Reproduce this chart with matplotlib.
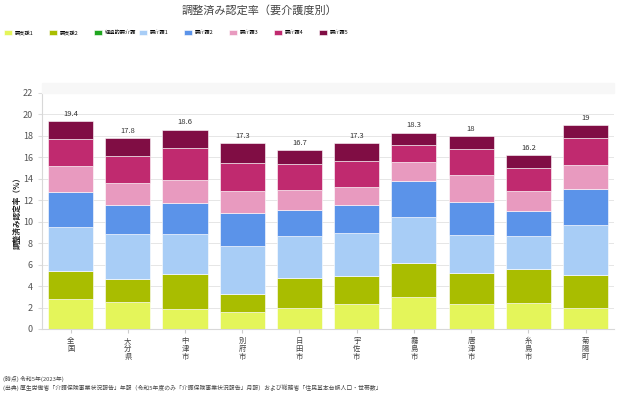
import matplotlib
matplotlib.use("Agg")
import matplotlib.pyplot as plt
import numpy as np

plt.rcParams['font.family'] = ['Noto Sans CJK JP', 'DejaVu Sans']

categories = ["全国", "大分県", "中津市", "別府市", "日田市", "宇佐市", "霧島市", "唐津市", "糸島市", "菊陽町"]
series_names = ["要支援1", "要支援2", "経過的要介護", "要介護1", "要介護2", "要介護3", "要介護4", "要介護5"]
shien1 = [2.80, 2.49, 1.86, 1.58, 1.96, 2.33, 2.98, 2.33, 2.42, 1.93]
shien2 = [2.64, 2.17, 3.24, 1.68, 2.83, 2.58, 3.17, 2.86, 3.14, 3.14]
keika = [0.0, 0.0, 0.0, 0.0, 0.0, 0.0, 0.0, 0.0, 0.0, 0.0]
kaigo1 = [4.04, 4.20, 3.79, 4.51, 3.91, 4.04, 4.32, 3.57, 3.11, 4.66]
kaigo2 = [3.26, 2.73, 2.86, 3.01, 2.36, 2.61, 3.33, 3.08, 2.30, 3.35]
kaigo3 = [2.49, 2.05, 2.17, 2.12, 1.93, 1.68, 1.80, 2.52, 1.90, 2.18]
kaigo4 = [2.48, 2.46, 2.92, 2.58, 2.36, 2.42, 1.55, 2.42, 2.17, 2.51]
kaigo5 = [1.69, 1.70, 1.74, 1.82, 1.35, 1.64, 1.15, 1.22, 1.16, 1.23]
totals = ["19.4", "17.8", "18.6", "17.3", "16.7", "17.3", "18.3", "18", "16.2", "19"]

colors = ["#e4f55a", "#a9bd00", "#1fa61f", "#a8cdf6", "#5b93e9", "#e89abf", "#c02a6f", "#800d44"]
series = [shien1, shien2, keika, kaigo1, kaigo2, kaigo3, kaigo4, kaigo5]

fig = plt.figure(figsize=(6.4, 3.98), dpi=100)
ax = fig.add_axes([0.0656, 0.1734, 0.894, 0.593])

x = np.arange(len(categories))
bottom = np.zeros(len(categories))
handles = []
for name, vals, c in zip(series_names, series, colors):
    v = np.array(vals)
    b = ax.bar(x, v, bottom=bottom, width=0.79, color=c, edgecolor='white', linewidth=0.4, label=name)
    handles.append(b)
    bottom += v

for xi, top, t in zip(x, bottom, totals):
    ax.text(xi, top + 0.3, t, ha='center', va='bottom', fontsize=5.5, color='#333333')

ax.set_xlim(-0.5, len(categories) - 0.5)
ax.set_ylim(0, 22)
ax.set_yticks(np.arange(0, 23, 2))
ax.tick_params(axis='y', labelsize=6.5, colors='#555555', length=3, color='#dddddd')
ax.set_xticks(x)
ax.set_xticklabels(["\n".join(c) for c in categories], fontsize=5.3, color='#444444', linespacing=1.0)
ax.tick_params(axis='x', length=3, color='#cccccc', pad=3)
ax.yaxis.grid(True, color='#e6e6e6', linewidth=0.7)
ax.set_axisbelow(True)
for s in ['top', 'right']:
    ax.spines[s].set_visible(False)
ax.spines['left'].set_color('#d8d8d8')
ax.spines['bottom'].set_color('#d8d8d8')
ax.set_ylabel("調整済み認定率（%）", fontsize=5.5, fontweight='bold', color='#222222')
ax.yaxis.set_label_coords((22 - 42) / 572, 0.5)

# faint band above the plot area
fig.patches.append(plt.Rectangle((42 / 640, 1 - 93 / 398), 572 / 640, 10 / 398,
                                 transform=fig.transFigure, color='#f7f7f7', zorder=0))

fig.text(259 / 640, 1 - 10 / 398, "調整済み認定率（要介護度別）", ha='center', va='center', fontsize=8, color='#444444')

for i, (h, name) in enumerate(zip(handles, series_names)):
    lg = fig.legend(handles=[h], labels=[name], loc='center left',
                    bbox_to_anchor=((4 + 45 * i) / 640, 1 - 32.5 / 398),
                    frameon=False, fontsize=3.8, handlelength=1.6, handleheight=1.0,
                    handletextpad=0.4, borderaxespad=0, borderpad=0)

fig.text(3 / 640, 1 - 379 / 398, "(時点) 令和5年(2023年)", fontsize=4.2, color='#444444', va='center')
fig.text(3 / 640, 1 - 388 / 398,
         "(出典) 厚生労働省「介護保険事業状況報告」年報（令和5年度のみ「介護保険事業状況報告」月報）および総務省「住民基本台帳人口・世帯数」",
         fontsize=4.2, color='#444444', va='center')

fig.savefig("out.png", dpi=100)
